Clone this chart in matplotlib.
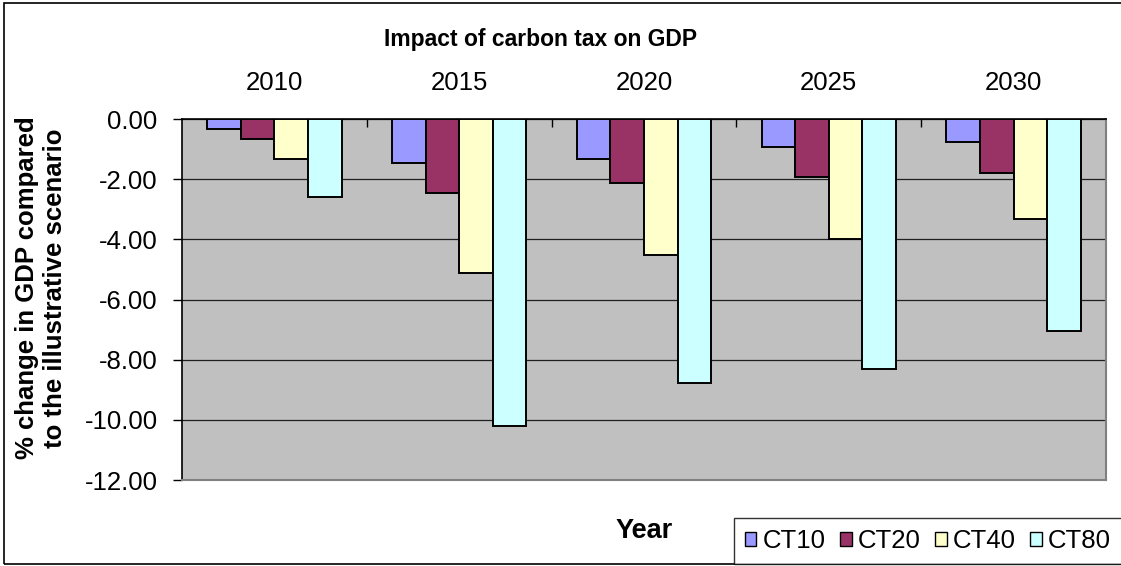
import numpy as np
import matplotlib.pyplot as plt
from matplotlib.patches import Rectangle

plt.rcParams['font.family'] = ['Liberation Sans', 'DejaVu Sans']

years = ['2010', '2015', '2020', '2025', '2030']
series = ['CT10', 'CT20', 'CT40', 'CT80']
ct10 = [-0.33, -1.45, -1.33, -0.92, -0.78]
ct20 = [-0.67, -2.47, -2.12, -1.92, -1.79]
ct40 = [-1.33, -5.11, -4.52, -3.98, -3.32]
ct80 = [-2.59, -10.20, -8.79, -8.32, -7.06]
colors = ['#9999FF', '#993366', '#FFFFCC', '#CCFFFF']

W, H = 1121, 566
fig = plt.figure(figsize=(W / 100, H / 100), dpi=100)
fig.patch.set_facecolor('white')

# plot area in pixel terms
L, R, T, B = 182, 1106, 119, 480
ax = fig.add_axes([L / W, 1 - B / H, (R - L) / W, (B - T) / H])
ax.set_facecolor('#C0C0C0')

x = np.arange(len(years)) + 0.5
w = 1 / 5.5
for j, (name, vals) in enumerate(zip(series, [ct10, ct20, ct40, ct80])):
    ax.bar(x + (j - 1.5) * w, vals, w, color=colors[j], edgecolor='black',
           linewidth=1.4, label=name, zorder=3)

ax.set_xlim(0, 5)
ax.set_ylim(-12, 0)
ax.set_yticks(np.arange(0, -12.1, -2))
ax.set_yticklabels(['%.2f' % v for v in np.arange(0, -12.1, -2)])
ax.tick_params(axis='y', direction='out', length=6.5, width=1, pad=11, labelsize=18.5)
ax.yaxis.grid(True, color='#202020', linewidth=0.9, zorder=1)
ax.set_axisbelow(True)

# category axis sits along zero at the top
ax.xaxis.tick_top()
ax.set_xticks([1, 2, 3, 4])
ax.set_xticklabels([])
ax.set_xticks(x, minor=True)
ax.set_xticklabels(years, minor=True)
ax.tick_params(axis='x', which='major', direction='in', length=6, width=1)
ax.tick_params(axis='x', which='minor', length=0, pad=17, labelsize=18.5)

ax.spines['top'].set_color('black')
ax.spines['top'].set_linewidth(1.2)
ax.spines['left'].set_color('black')
ax.spines['left'].set_linewidth(1.2)
for s in ['right', 'bottom']:
    ax.spines[s].set_color('#808080')
    ax.spines[s].set_linewidth(1.5)

fig.text(541 / W, 1 - 46 / H, 'Impact of carbon tax on GDP', ha='center',
         va='baseline', fontsize=16.5, fontweight='bold')
fig.text(644 / W, 1 - 538 / H, 'Year', ha='center', va='baseline',
         fontsize=19.5, fontweight='bold')
fig.text(41 / W, 1 - 288 / H, '% change in GDP compared\nto the illustrative scenario',
         ha='center', va='center', rotation=90, multialignment='center',
         fontsize=18.5, fontweight='bold')

leg = fig.legend(loc='center', bbox_to_anchor=((738 + 1118) / 2 / W, 1 - 541 / H),
                 ncol=4, fontsize=18.5, frameon=True, fancybox=False,
                 handlelength=0.45, handleheight=0.45, handletextpad=0.25,
                 columnspacing=0.55, borderpad=0.42, borderaxespad=0)
leg.get_frame().set_edgecolor('black')
leg.get_frame().set_linewidth(1)
for h in leg.legend_handles:
    h.set_linewidth(1)

# chart border, right side runs off the canvas
fig.patches.append(Rectangle((4 / W, 2 / H), 1.2, 1 - 5 / H, transform=fig.transFigure,
                             fill=False, edgecolor='black', linewidth=1.2))

fig.savefig('out.png', dpi=100)
